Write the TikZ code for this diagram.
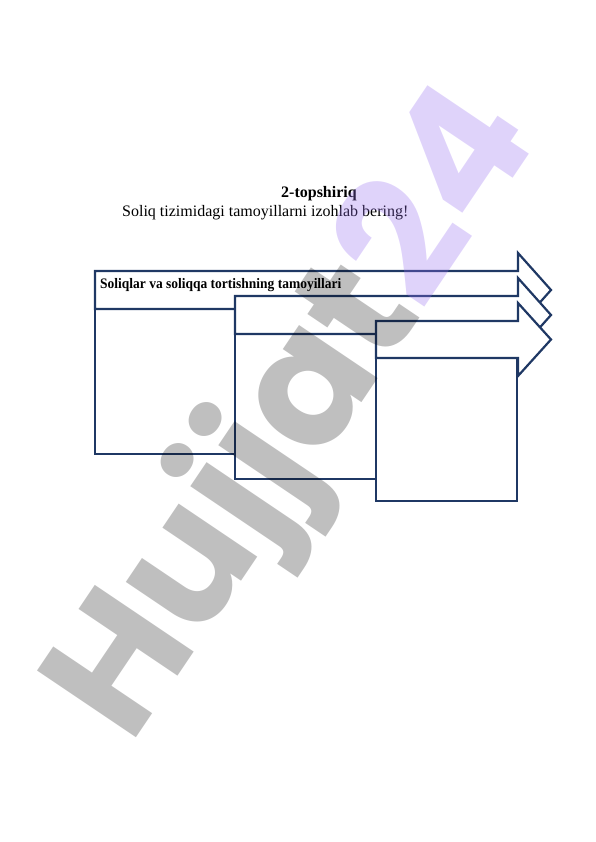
\documentclass[tikz,border=0pt]{standalone}
\usepackage{fontspec}
\setmainfont{Liberation Serif}
\newfontfamily\wmfont{Poppins}
\definecolor{navy}{RGB}{31,56,100}
\definecolor{wmgray}{RGB}{0,0,0}
\definecolor{wmlav}{RGB}{150,110,240}
\begin{document}
\begin{tikzpicture}[x=1pt,y=-1pt,
  arrowshape/.style={draw=navy,line width=2.2pt,fill=white,line join=miter},
  boxshape/.style={draw=navy,line width=1.3pt},
  lbl/.style={inner sep=0pt,anchor=base west}]
\useasboundingbox (0,0) rectangle (596,842);
% titles
\node[inner sep=0pt,anchor=base] (title) at (319,198) {\fontsize{16}{18}\selectfont\bfseries 2-topshiriq};
\node[lbl] (task) at (122,216) {\fontsize{16}{18}\selectfont Soliq tizimidagi tamoyillarni izohlab bering!};
% shape 1
\draw[boxshape] (95,309) rectangle (235,454);
\draw[arrowshape] (95,271) -- (518,271) -- (518,253) -- (551,290) -- (518,327) -- (518,309) -- (95,309) -- cycle;
\node[lbl] (l1) at (100,288) {\scalebox{0.93}[1]{\fontsize{14.5}{16}\selectfont\bfseries Soliqlar va soliqqa tortishning tamoyillari}};
% shape 2
\draw[boxshape] (235,334) rectangle (376,479);
\draw[arrowshape] (235,296) -- (518,296) -- (518,278) -- (551,315) -- (518,352) -- (518,334) -- (235,334) -- cycle;
% shape 3
\draw[boxshape] (376,358) rectangle (517,501);
\draw[arrowshape] (376,321) -- (518,321) -- (518,303) -- (551,339.5) -- (518,376) -- (518,358) -- (376,358) -- cycle;
% watermark
\node[inner sep=0pt,anchor=base west,rotate=56] (wm) at (130,747)
  {\wmfont\bfseries\fontsize{170}{170}\selectfont
   \pgfsetfillopacity{0.25}\textcolor{wmgray}{Hujjat}\pgfsetfillopacity{0.3}\textcolor{wmlav}{24}};
\end{tikzpicture}
\end{document}
